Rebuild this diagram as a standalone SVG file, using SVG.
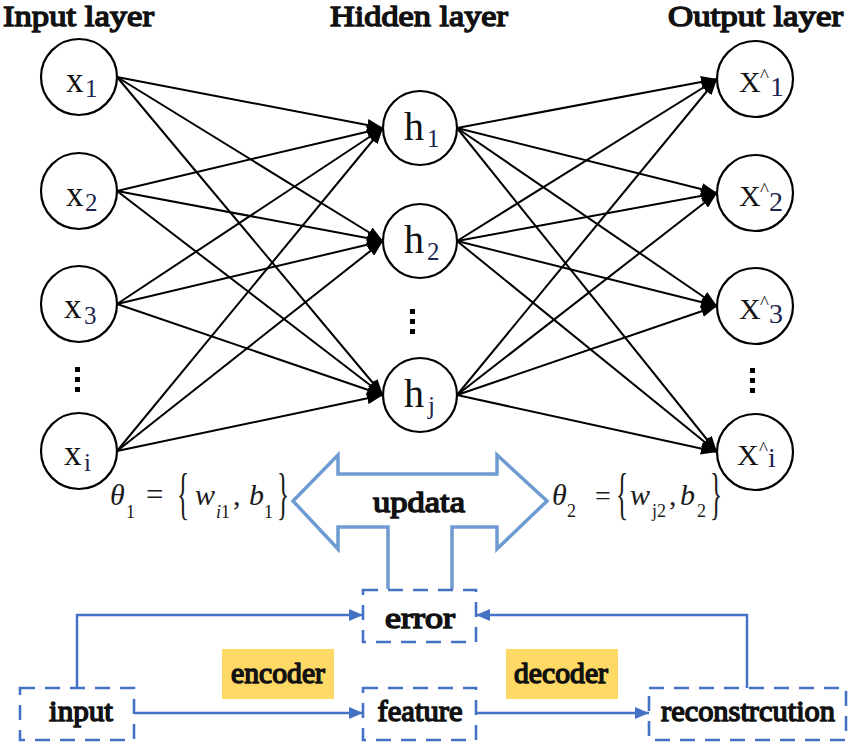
<svg xmlns="http://www.w3.org/2000/svg" width="850" height="745" viewBox="0 0 850 745">
<style>
.node{fill:#fff;stroke:#000;stroke-width:2.2}
.lbl{font-family:"Liberation Serif","Times New Roman",serif;fill:#111}
.sub{font-family:"Liberation Serif","Times New Roman",serif;fill:#1c2550}
.head{font-family:"Liberation Serif","Times New Roman",serif;font-size:30px;fill:#111;stroke:#111;stroke-width:1.5;stroke-linejoin:round}
.edge{stroke:#000;stroke-width:2;fill:none;marker-end:url(#ah)}
.blue{stroke:#4472C4;stroke-width:2.5;fill:none;marker-end:url(#bh)}
.dbox{fill:none;stroke:#4472C4;stroke-width:2.6;stroke-dasharray:15 10}
.btxt{font-family:"Liberation Serif","Times New Roman",serif;font-size:30px;fill:#111;stroke:#111;stroke-width:1.5;stroke-linejoin:round;text-anchor:middle}
.math{font-family:"Liberation Serif","Times New Roman",serif;fill:#1a1a1a}
.it{font-style:italic}
.dot{fill:#000}
</style>
<defs>
<marker id="ah" markerUnits="userSpaceOnUse" viewBox="0 0 16 12" refX="16" refY="6" markerWidth="16" markerHeight="12" orient="auto">
<path d="M0,0 L16,6 L0,12 z" fill="#000"/>
</marker>
<marker id="bh" markerUnits="userSpaceOnUse" viewBox="0 0 14 12" refX="14" refY="6" markerWidth="14" markerHeight="12" orient="auto">
<path d="M0,0 L14,6 L0,12 z" fill="#4472C4"/>
</marker>
</defs>

<g id="headings">
<text class="head" x="3" y="26" textLength="151" lengthAdjust="spacingAndGlyphs">Input layer</text>
<text class="head" x="330" y="26" textLength="178" lengthAdjust="spacingAndGlyphs">Hidden layer</text>
<text class="head" x="668" y="26" textLength="175" lengthAdjust="spacingAndGlyphs">Output layer</text>
</g>

<g id="connectors">
<line class="edge" x1="117" y1="77" x2="383" y2="128"/>
<line class="edge" x1="117" y1="77" x2="383" y2="241"/>
<line class="edge" x1="117" y1="77" x2="383" y2="395"/>
<line class="edge" x1="117" y1="191" x2="383" y2="128"/>
<line class="edge" x1="117" y1="191" x2="383" y2="241"/>
<line class="edge" x1="117" y1="191" x2="383" y2="395"/>
<line class="edge" x1="117" y1="304" x2="383" y2="128"/>
<line class="edge" x1="117" y1="304" x2="383" y2="241"/>
<line class="edge" x1="117" y1="304" x2="383" y2="395"/>
<line class="edge" x1="117" y1="451" x2="383" y2="128"/>
<line class="edge" x1="117" y1="451" x2="383" y2="241"/>
<line class="edge" x1="117" y1="451" x2="383" y2="395"/>
<line class="edge" x1="457" y1="128" x2="717" y2="79"/>
<line class="edge" x1="457" y1="128" x2="717" y2="193"/>
<line class="edge" x1="457" y1="128" x2="717" y2="306"/>
<line class="edge" x1="457" y1="128" x2="717" y2="452"/>
<line class="edge" x1="457" y1="241" x2="717" y2="79"/>
<line class="edge" x1="457" y1="241" x2="717" y2="193"/>
<line class="edge" x1="457" y1="241" x2="717" y2="306"/>
<line class="edge" x1="457" y1="241" x2="717" y2="452"/>
<line class="edge" x1="457" y1="395" x2="717" y2="79"/>
<line class="edge" x1="457" y1="395" x2="717" y2="193"/>
<line class="edge" x1="457" y1="395" x2="717" y2="306"/>
<line class="edge" x1="457" y1="395" x2="717" y2="452"/>
<path class="blue" d="M77,688 V615 H363"/>
<path class="blue" d="M134,713 H363"/>
<path class="blue" d="M476,713 H649"/>
<path class="blue" d="M747,688 V615 H476"/>
</g>

<g id="x1"><circle class="node" cx="79" cy="77" r="38"/><text class="lbl" x="66" y="92" font-size="35">x</text><text class="sub" x="85" y="97" font-size="25">1</text></g>
<g id="x2"><circle class="node" cx="79" cy="191" r="38"/><text class="lbl" x="66" y="206" font-size="35">x</text><text class="sub" x="85" y="211" font-size="25">2</text></g>
<g id="x3"><circle class="node" cx="79" cy="304" r="38"/><text class="lbl" x="64" y="318" font-size="35">x</text><text class="sub" x="84" y="324" font-size="25">3</text></g>
<g id="xdots"><rect class="dot" x="75" y="367" width="5" height="5"/><rect class="dot" x="75" y="377" width="5" height="5"/><rect class="dot" x="75" y="387" width="5" height="5"/></g>
<g id="xi"><circle class="node" cx="79" cy="451" r="38"/><text class="lbl" x="64" y="465" font-size="35">x</text><text class="sub" x="84" y="471" font-size="25">i</text></g>

<g id="h1"><circle class="node" cx="420" cy="128" r="37"/><text class="lbl" x="404" y="140" font-size="40">h</text><text class="sub" x="427" y="147" font-size="25">1</text></g>
<g id="h2"><circle class="node" cx="420" cy="241" r="37"/><text class="lbl" x="404" y="253" font-size="40">h</text><text class="sub" x="427" y="260" font-size="25">2</text></g>
<g id="hdots"><rect class="dot" x="410" y="309" width="5" height="5"/><rect class="dot" x="410" y="319" width="5" height="5"/><rect class="dot" x="410" y="329" width="5" height="5"/></g>
<g id="hj"><circle class="node" cx="420" cy="395" r="37"/><text class="lbl" x="404" y="407" font-size="40">h</text><text class="sub" x="428" y="414" font-size="25">j</text></g>

<g id="o1"><circle class="node" cx="755" cy="79" r="38"/><text class="lbl" x="739" y="92" font-size="30">X</text><text class="lbl" x="760" y="82" font-size="19">^</text><text class="sub" x="770" y="96" font-size="28">1</text></g>
<g id="o2"><circle class="node" cx="755" cy="193" r="38"/><text class="lbl" x="739" y="206" font-size="30">X</text><text class="lbl" x="760" y="196" font-size="19">^</text><text class="sub" x="769" y="211" font-size="28">2</text></g>
<g id="o3"><circle class="node" cx="755" cy="306" r="38"/><text class="lbl" x="739" y="319" font-size="30">X</text><text class="lbl" x="760" y="309" font-size="19">^</text><text class="sub" x="769" y="323" font-size="28">3</text></g>
<g id="odots"><rect class="dot" x="750" y="368" width="5" height="5"/><rect class="dot" x="750" y="378" width="5" height="5"/><rect class="dot" x="750" y="388" width="5" height="5"/></g>
<g id="oi"><circle class="node" cx="755" cy="452" r="38"/><text class="lbl" x="737" y="465" font-size="30">X</text><text class="lbl" x="759" y="455" font-size="19">^</text><text class="sub" x="768" y="467" font-size="28">i</text></g>

<g id="theta1">
<text class="math it" x="110" y="505" font-size="30">θ</text>
<text class="math" x="126" y="518" font-size="18">1</text>
<text class="math" x="146" y="505" font-size="31">=</text>
<text class="math" font-size="56" transform="translate(177,513) scale(0.45,1)">{</text>
<text class="math it" x="195" y="505" font-size="30">w</text>
<text class="math" y="518" font-size="18"><tspan class="it" x="216">i</tspan><tspan>1</tspan></text>
<text class="math" x="233" y="505" font-size="30">,</text>
<text class="math it" x="249" y="505" font-size="30">b</text>
<text class="math" x="264" y="518" font-size="18">1</text>
<text class="math" font-size="56" transform="translate(277,513) scale(0.45,1)">}</text>
</g>

<g id="theta2">
<text class="math it" x="552" y="505" font-size="30">θ</text>
<text class="math" x="567" y="517" font-size="18">2</text>
<text class="math" x="595" y="505" font-size="28">=</text>
<text class="math" font-size="56" transform="translate(616,513) scale(0.45,1)">{</text>
<text class="math it" x="630" y="505" font-size="30">w</text>
<text class="math" x="652" y="517" font-size="18">j2</text>
<text class="math" x="669" y="505" font-size="30">,</text>
<text class="math it" x="680" y="505" font-size="30">b</text>
<text class="math" x="697" y="517" font-size="18">2</text>
<text class="math" font-size="56" transform="translate(710,513) scale(0.45,1)">}</text>
</g>

<g id="updata">
<path d="M388,589 V527 H338 V549 L293,501 L338,455 V474 H497 V455 L547,501 L497,549 V527 H452 V589" fill="#fff" stroke="#6E9BD1" stroke-width="3.5" stroke-linejoin="miter"/>
<text class="btxt" x="419" y="512" textLength="92" lengthAdjust="spacingAndGlyphs">updata</text>
</g>

<g id="error"><rect class="dbox" x="363" y="590" width="113" height="52"/><text class="btxt" x="420" y="628" font-size="32" textLength="70" lengthAdjust="spacingAndGlyphs">error</text></g>
<g id="input"><rect class="dbox" x="20" y="688" width="114" height="52"/><text class="btxt" x="81" y="721" textLength="64" lengthAdjust="spacingAndGlyphs">input</text></g>
<g id="feature"><rect class="dbox" x="363" y="688" width="113" height="52"/><text class="btxt" x="420" y="721" textLength="85" lengthAdjust="spacingAndGlyphs">feature</text></g>
<g id="reconstrcution"><rect class="dbox" x="649" y="688" width="197" height="52"/><text class="btxt" x="748" y="721" textLength="174" lengthAdjust="spacingAndGlyphs">reconstrcution</text></g>
<g id="encoder"><rect x="222" y="649" width="112" height="50" fill="#FFD966"/><text class="btxt" x="278" y="683" textLength="94" lengthAdjust="spacingAndGlyphs">encoder</text></g>
<g id="decoder"><rect x="506" y="649" width="112" height="50" fill="#FFD966"/><text class="btxt" x="561" y="683" textLength="94" lengthAdjust="spacingAndGlyphs">decoder</text></g>
</svg>
